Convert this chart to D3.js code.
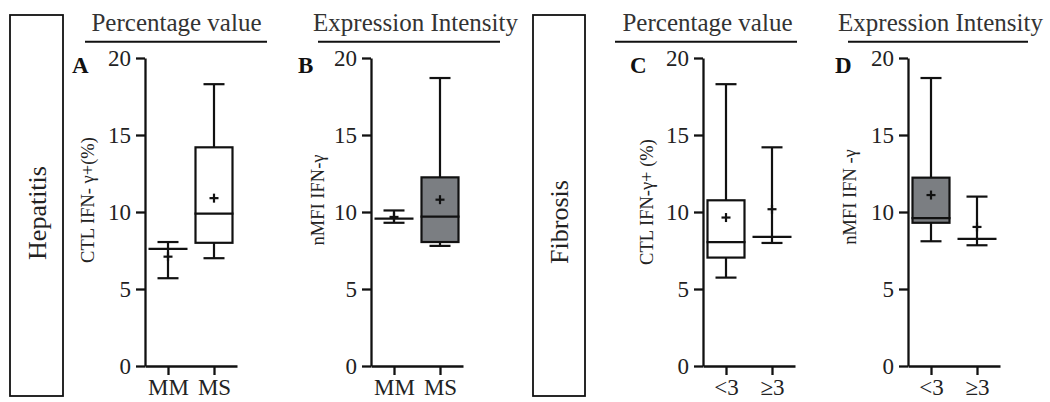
<!DOCTYPE html>
<html>
<head>
<meta charset="utf-8">
<script src="https://cdn.jsdelivr.net/npm/d3@7"></script>
<style>
  body{margin:0;background:#fff;}
  svg{display:block;font-family:"Liberation Serif","Times New Roman",serif;}
  .axis path,.axis line{stroke:#111;stroke-width:2.3;}
  .axis text{font-size:23px;fill:#222;font-family:"Liberation Serif",serif;}
</style>
</head>
<body>
<div id="chart"></div>
<script>
/* Box plots of IFN-γ in CTL: hepatitis (A,B) and fibrosis (C,D) groups */
var yTicks=[0,5,10,15,20];
var hepGroups=["MM","MS"];
var fibGroups=["<3","\u22653"];

// min, q1, median, q3, max, mean per group
var statsA=[{min:5.7,q1:7.6,median:7.6,q3:7.6,max:8.05,mean:7.1},
            {min:7.0,q1:8.0,median:9.9,q3:14.2,max:18.3,mean:10.9}];
var statsB=[{min:9.3,q1:9.57,median:9.57,q3:9.57,max:10.1,mean:9.68},
            {min:7.8,q1:8.05,median:9.7,q3:12.25,max:18.7,mean:10.8}];
var statsC=[{min:5.74,q1:7.04,median:8.05,q3:10.76,max:18.3,mean:9.64},
            {min:7.99,q1:8.38,median:8.38,q3:8.38,max:14.2,mean:10.18}];
var statsD=[{min:8.1,q1:9.3,median:9.6,q3:12.23,max:18.7,mean:11.1},
            {min:7.84,q1:8.25,median:8.25,q3:8.25,max:11.0,mean:9.03}];

var panels=[
  {letter:"A",ax:145,groups:hepGroups,stats:statsA,fill:"#fff",label:"CTL IFN- \u03b3+(%)",labOff:-57,labY:200},
  {letter:"B",ax:371,groups:hepGroups,stats:statsB,fill:"#7b7e82",label:"nMFI IFN-\u03b3",labOff:-53,labY:200},
  {letter:"C",ax:703,groups:fibGroups,stats:statsC,fill:"#fff",label:"CTL IFN-\u03b3+ (%)",labOff:-56,labY:202},
  {letter:"D",ax:908,groups:fibGroups,stats:statsD,fill:"#7b7e82",label:"nMFI IFN -\u03b3",labOff:-58,labY:197}
];
var headers=[
  {text:"Percentage value",cx:176.5,x0:85,x1:267},
  {text:"Expression Intensity",cx:415.5,x0:318,x1:500},
  {text:"Percentage value",cx:707.5,x0:615,x1:797},
  {text:"Expression Intensity",cx:940.5,x0:848,x1:1028}
];
var sideBoxes=[{text:"Hepatitis",x:10,w:53,ty:213},{text:"Fibrosis",x:533,w:52,ty:222}];

var W=1050,H=402;
var svg=d3.select("#chart").append("svg").attr("width",W).attr("height",H);

// side boxes with rotated group names
sideBoxes.forEach(function(b){
  svg.append("rect").attr("x",b.x).attr("y",15).attr("width",b.w).attr("height",381)
    .attr("fill","none").attr("stroke","#111").attr("stroke-width",1.8);
  svg.append("text").attr("transform","translate("+(b.x+b.w/2)+","+b.ty+") rotate(-90)")
    .attr("text-anchor","middle").attr("dy","0.35em").style("font-size","26px").attr("fill","#222").text(b.text);
});

// section headers with underline
headers.forEach(function(h){
  svg.append("text").attr("x",h.cx).attr("y",31).attr("text-anchor","middle")
    .style("font-size","25px").attr("fill","#333").text(h.text);
  svg.append("line").attr("x1",h.x0).attr("x2",h.x1).attr("y1",41.7).attr("y2",41.7)
    .attr("stroke","#111").attr("stroke-width",2);
});

var y=d3.scaleLinear().domain([0,20]).range([366,58]);
var boxW=37,capW=21,sw=2.2;

panels.forEach(function(p){
  var x=d3.scalePoint().domain(p.groups).range([p.ax,p.ax+92]).padding(0.5);
  var g=svg.append("g");

  g.append("g").attr("class","axis").attr("transform","translate("+p.ax+",0)")
    .call(d3.axisLeft(y).tickValues(yTicks).tickSize(9).tickSizeOuter(0).tickPadding(5));
  g.append("g").attr("class","axis").attr("transform","translate(0,366)")
    .call(d3.axisBottom(x).tickSize(9).tickSizeOuter(0).tickPadding(4));

  g.append("text").attr("x",p.ax-73).attr("y",73).style("font-size","23px").style("font-weight","bold")
    .attr("fill","#111").text(p.letter);
  g.append("text").attr("transform","translate("+(p.ax+p.labOff)+","+p.labY+") rotate(-90)")
    .attr("text-anchor","middle").attr("dy","0.35em").style("font-size","18.5px").attr("fill","#222").text(p.label);

  p.groups.forEach(function(grp,i){
    var s=p.stats[i], cx=x(grp);
    var line=function(x1,y1,x2,y2){g.append("line").attr("x1",x1).attr("y1",y1).attr("x2",x2).attr("y2",y2)
      .attr("stroke","#111").attr("stroke-width",sw);};
    // whiskers
    line(cx,y(s.max),cx,y(s.q3)); line(cx,y(s.q1),cx,y(s.min));
    line(cx-capW/2,y(s.max),cx+capW/2,y(s.max)); line(cx-capW/2,y(s.min),cx+capW/2,y(s.min));
    // box
    g.append("rect").attr("x",cx-boxW/2).attr("y",y(s.q3)).attr("width",boxW).attr("height",y(s.q1)-y(s.q3))
      .attr("fill",p.fill).attr("stroke","#111").attr("stroke-width",sw);
    line(cx-boxW/2-1,y(s.median),cx+boxW/2+1,y(s.median));
    // mean marker
    line(cx-4.5,y(s.mean),cx+4.5,y(s.mean)); line(cx,y(s.mean)-4.5,cx,y(s.mean)+4.5);
  });
});
</script>
</body>
</html>
